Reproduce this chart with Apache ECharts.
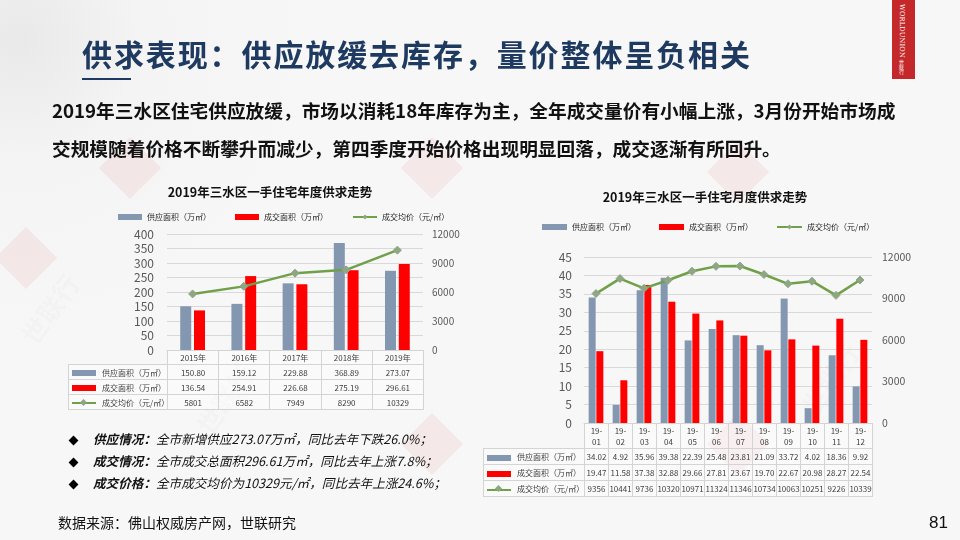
<!DOCTYPE html>
<html>
<head>
<meta charset="utf-8">
<script src="https://cdn.jsdelivr.net/npm/echarts@6/dist/echarts.min.js"></script>
<style>
  body { margin: 0; width: 960px; height: 540px; overflow: hidden; font-family: "Noto Sans CJK SC", sans-serif; }
  #slide { position: relative; width: 960px; height: 540px; overflow: hidden;
    background: radial-gradient(circle at 20px 40px, #e9e9e9 0, #f4f4f4 120px, #f7f7f7 300px),
                #f7f7f7; }
  #chart { position: absolute; left: 0; top: 0; width: 960px; height: 540px; z-index: 2; }
  .abs { position: absolute; z-index: 3; }
  #title { left: 82px; top: 38px; font-size: 30px; font-weight: bold; color: #1f3a60; letter-spacing: 1.9px; white-space: nowrap; line-height: 1; }
  #uline { left: 82px; top: 78px; width: 49px; height: 2px; background: #1f3a60; }
  #logo { left: 892px; top: 0; width: 23px; height: 79px; background: #c4282b; color: #fff; z-index: 3; overflow: hidden; }
  #logo span { position: absolute; left: 6px; top: 4px; writing-mode: vertical-rl; font-family: "DejaVu Serif", serif; font-size: 6.6px; letter-spacing: 0.2px; line-height: 1; }
  #logo i { position: absolute; left: 7px; top: 60px; writing-mode: vertical-rl; font-size: 5px; font-style: normal; line-height: 1; }
  .para { left: 52px; font-size: 18.7px; font-weight: bold; color: #111; white-space: nowrap; line-height: 1; }
  .bul { left: 68px; font-size: 12.6px; font-style: italic; color: #111; white-space: nowrap; line-height: 1; }
  .bul b { font-weight: bold; }
  .bul .dot { display: inline-block; width: 7px; height: 7px; background: #000; transform: rotate(45deg); margin: 0 16px 1px 2px; vertical-align: middle; font-style: normal; }
  #src { left: 58px; top: 515px; font-size: 14px; color: #111; white-space: nowrap; line-height: 1; }
  #page { left: 929px; top: 513px; font-size: 17px; color: #111; font-family: "Liberation Sans", sans-serif; }
  table.dt { position: absolute; z-index: 3; border-collapse: collapse; table-layout: fixed; font-size: 8px; color: #404040; }
  table.dt td { border: 1px solid #d4d4d4; text-align: center; padding: 0; overflow: hidden; white-space: nowrap; background: rgba(255,255,255,0.35); }
  table.dt td.nb { border: none; background: transparent; }
  table.dt td.lab { text-align: left; padding-left: 3px; }
  .ic { display: inline-block; vertical-align: middle; margin-right: 6px; position: relative; }
  .wm { position: absolute; z-index: 1; width: 44px; height: 44px; background: rgba(235,70,70,0.08); transform: rotate(45deg); }
  .wmt { position: absolute; z-index: 1; color: rgba(120,120,120,0.05); font-size: 26px; font-weight: bold; transform: rotate(-55deg); white-space: nowrap; }
</style>
</head>
<body>
<div id="slide">
  <div class="wm" style="left:108px;top:146px"></div>
  <div class="wm" style="left:410px;top:146px"></div>
  <div class="wm" style="left:716px;top:150px"></div>
  <div class="wm" style="left:4px;top:236px"></div>
  <div class="wm" style="left:410px;top:422px"></div>
  <div class="wm" style="left:716px;top:422px"></div>
  <div class="wmt" style="left:185px;top:380px">世联行</div>
  <div class="wmt" style="left:790px;top:360px">世联行</div>
  <div class="wmt" style="left:10px;top:290px">世联行</div>

  <div id="chart"></div>

  <div id="title" class="abs">供求表现：供应放缓去库存，量价整体呈负相关</div>
  <div id="uline" class="abs"></div>
  <div id="logo" class="abs"><span>WORLDUNION</span><i>世联行</i></div>

  <div class="abs para" style="top:101px">2019年三水区住宅供应放缓，市场以消耗18年库存为主，全年成交量价有小幅上涨，3月份开始市场成</div>
  <div class="abs para" style="top:139px">交规模随着价格不断攀升而减少，第四季度开始价格出现明显回落，成交逐渐有所回升。</div>

  <div class="abs bul" style="top:433px"><span class="dot"></span><b>供应情况：</b>全市新增供应273.07万㎡，同比去年下跌26.0%；</div>
  <div class="abs bul" style="top:455px"><span class="dot"></span><b>成交情况：</b>全市成交总面积296.61万㎡，同比去年上涨7.8%；</div>
  <div class="abs bul" style="top:477px"><span class="dot"></span><b>成交价格：</b>全市成交均价为10329元/㎡，同比去年上涨24.6%；</div>

  <div id="src" class="abs">数据来源：佛山权威房产网，世联研究</div>
  <div id="page" class="abs">81</div>
</div>

<script>
// 年度
const years = ["2015年", "2016年", "2017年", "2018年", "2019年"];
const yearSupply = [150.80, 159.12, 229.88, 368.89, 273.07];
const yearDeal = [136.54, 254.91, 226.68, 275.19, 296.61];
const yearPrice = [5801, 6582, 7949, 8290, 10329];

// 月度
const months = ["19-01", "19-02", "19-03", "19-04", "19-05", "19-06", "19-07", "19-08", "19-09", "19-10", "19-11", "19-12"];
const monthSupply = [34.02, 4.92, 35.96, 39.38, 22.39, 25.48, 23.81, 21.09, 33.72, 4.02, 18.36, 9.92];
const monthDeal = [19.47, 11.58, 37.38, 32.88, 29.66, 27.81, 23.67, 19.70, 22.67, 20.98, 28.27, 22.54];
const monthPrice = [9356, 10441, 9736, 10320, 10971, 11324, 11346, 10734, 10063, 10251, 9226, 10339];

const names = ["供应面积（万㎡）", "成交面积（万㎡）", "成交均价（元/㎡）"];
const C_SUP = "#8497b0", C_DEAL = "#ff0000", C_LINE = "#70a04a", C_MARK = "#8ea684";

// grid boxes
const g1 = { left: 167, right: 423, top: 234, bottom: 350 };
const g2 = { left: 584, right: 872, top: 257, bottom: 423 };

const chart = echarts.init(document.getElementById("chart"));

const axisLbl = { color: "#595959", fontFamily: "Noto Sans CJK SC" };
const plain = v => String(v);

chart.setOption({
  animation: false,
  textStyle: { fontFamily: "Noto Sans CJK SC" },
  title: [
    { text: "2019年三水区一手住宅年度供求走势", left: 265, top: 181, textAlign: "center",
      textStyle: { fontSize: 12.5, fontWeight: "bold", color: "#111" } },
    { text: "2019年三水区一手住宅月度供求走势", left: 700, top: 186, textAlign: "center",
      textStyle: { fontSize: 12.5, fontWeight: "bold", color: "#111" } }
  ],
  legend: [
    { left: 113, top: 208, itemWidth: 24, itemHeight: 6, itemGap: 24, selectedMode: false,
      textStyle: { fontSize: 8, color: "#262626" },
      data: [{ name: names[0], icon: "rect" }, { name: names[1], icon: "rect" }, { name: names[2] }] },
    { left: 537, top: 218, itemWidth: 25, itemHeight: 6, itemGap: 23, selectedMode: false,
      textStyle: { fontSize: 8, color: "#262626" },
      data: [{ name: names[0], icon: "rect" }, { name: names[1], icon: "rect" }, { name: names[2] }] }
  ],
  grid: [
    { left: g1.left, top: g1.top, width: g1.right - g1.left, height: g1.bottom - g1.top },
    { left: g2.left, top: g2.top, width: g2.right - g2.left, height: g2.bottom - g2.top }
  ],
  xAxis: [
    { gridIndex: 0, type: "category", data: years, axisLabel: { show: false }, axisTick: { show: false },
      axisLine: { lineStyle: { color: "#d4d4d4" } } },
    { gridIndex: 1, type: "category", data: months, axisLabel: { show: false }, axisTick: { show: false },
      axisLine: { lineStyle: { color: "#d4d4d4" } } }
  ],
  yAxis: [
    { gridIndex: 0, min: 0, max: 400, interval: 50,
      axisLabel: { ...axisLbl, fontSize: 12, margin: 13, formatter: plain },
      splitLine: { lineStyle: { color: "#d9d9d9" } }, axisLine: { show: false }, axisTick: { show: false } },
    { gridIndex: 0, min: 0, max: 12000, interval: 3000, position: "right",
      axisLabel: { ...axisLbl, fontSize: 10, margin: 9, formatter: plain },
      splitLine: { show: false }, axisLine: { show: false }, axisTick: { show: false } },
    { gridIndex: 1, min: 0, max: 45, interval: 5,
      axisLabel: { ...axisLbl, fontSize: 12, margin: 12, formatter: plain },
      splitLine: { lineStyle: { color: "#d9d9d9" } }, axisLine: { show: false }, axisTick: { show: false } },
    { gridIndex: 1, min: 0, max: 12000, interval: 3000, position: "right",
      axisLabel: { ...axisLbl, fontSize: 10.5, margin: 10, formatter: plain },
      splitLine: { show: false }, axisLine: { show: false }, axisTick: { show: false } }
  ],
  series: [
    { name: names[0], type: "bar", xAxisIndex: 0, yAxisIndex: 0, data: yearSupply,
      barWidth: 11, barGap: "25%", itemStyle: { color: C_SUP } },
    { name: names[1], type: "bar", xAxisIndex: 0, yAxisIndex: 0, data: yearDeal,
      barWidth: 11, barGap: "25%", itemStyle: { color: C_DEAL } },
    { name: names[2], type: "line", xAxisIndex: 0, yAxisIndex: 1, data: yearPrice,
      symbol: "diamond", symbolSize: 8, lineStyle: { color: C_LINE, width: 2.5 },
      itemStyle: { color: C_MARK, borderColor: C_MARK } },

    { name: names[0], type: "bar", xAxisIndex: 1, yAxisIndex: 2, data: monthSupply,
      barWidth: 7, barGap: "10%", itemStyle: { color: C_SUP } },
    { name: names[1], type: "bar", xAxisIndex: 1, yAxisIndex: 2, data: monthDeal,
      barWidth: 7, barGap: "10%", itemStyle: { color: C_DEAL } },
    { name: names[2], type: "line", xAxisIndex: 1, yAxisIndex: 3, data: monthPrice,
      symbol: "diamond", symbolSize: 8, lineStyle: { color: C_LINE, width: 2.5 },
      itemStyle: { color: C_MARK, borderColor: C_MARK } }
  ]
});

// data tables under the two charts
function icon(i) {
  if (i < 2) {
    return '<span class="ic" style="width:24px;height:6px;background:' + (i ? C_DEAL : C_SUP) + '"></span>';
  }
  return '<span class="ic" style="width:24px;height:2px;background:' + C_LINE + '">' +
    '<span style="position:absolute;left:9px;top:-2.5px;width:5px;height:5px;background:' + C_MARK +
    ';transform:rotate(45deg)"></span></span>';
}

function buildTable(g, labLeft, headH, rowH, cats, rows, head2) {
  const t = document.createElement("table");
  t.className = "dt";
  const colW = (g.right - g.left) / cats.length;
  t.style.left = labLeft + "px";
  t.style.top = g.bottom + "px";
  t.style.width = (g.right - labLeft) + "px";
  let h = '<colgroup><col style="width:' + (g.left - labLeft) + 'px">';
  cats.forEach(() => h += '<col style="width:' + colW + 'px">');
  h += '</colgroup><tr style="height:' + headH + 'px"><td class="nb"></td>';
  cats.forEach(c => {
    h += '<td style="line-height:11px">' + (head2 ? c.replace("-", "-<br>") : c) + '</td>';
  });
  h += '</tr>';
  rows.forEach((r, i) => {
    h += '<tr style="height:' + rowH + 'px"><td class="lab">' + icon(i) + names[i] + '</td>';
    r.forEach(v => h += '<td>' + (i < 2 ? v.toFixed(2) : v) + '</td>');
    h += '</tr>';
  });
  t.innerHTML = h;
  document.getElementById("slide").appendChild(t);
}

buildTable(g1, 68, 14, 15, years, [yearSupply, yearDeal, yearPrice], false);
buildTable(g2, 483, 25, 16, months, [monthSupply, monthDeal, monthPrice], true);
</script>
</body>
</html>
